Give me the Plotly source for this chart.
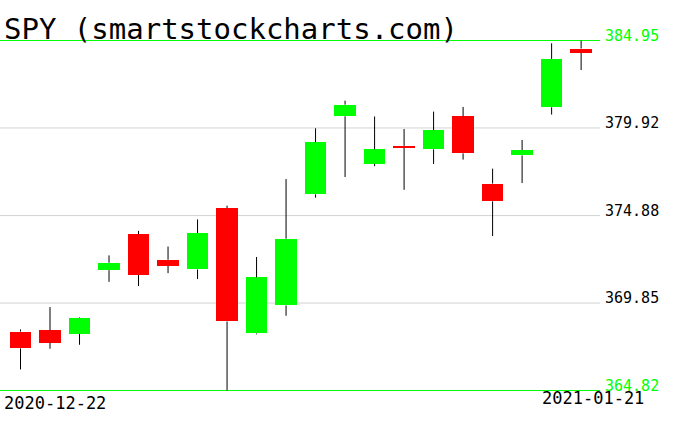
import plotly.graph_objects as go

dates = ["2020-12-22", "2020-12-23", "2020-12-24", "2020-12-28", "2020-12-29",
         "2020-12-30", "2020-12-31", "2021-01-04", "2021-01-05", "2021-01-06",
         "2021-01-07", "2021-01-08", "2021-01-11", "2021-01-12", "2021-01-13",
         "2021-01-14", "2021-01-15", "2021-01-19", "2021-01-20", "2021-01-21"]
opens = [368.21, 368.28, 368.08, 371.74, 373.81, 372.34, 371.78, 375.31, 368.10, 369.71,
         376.10, 380.59, 377.85, 378.89, 378.69, 380.59, 376.72, 378.34, 381.11, 384.49]
highs = [368.33, 369.62, 369.03, 372.59, 374.00, 373.10, 374.66, 375.45, 372.50, 376.98,
         379.90, 381.49, 380.58, 379.86, 380.86, 381.13, 377.58, 379.23, 384.79, 384.95]
lows = [366.03, 367.22, 367.45, 371.07, 370.83, 371.57, 371.23, 364.82, 368.05, 369.12,
        375.91, 377.10, 377.72, 376.36, 377.85, 378.10, 373.70, 376.75, 380.69, 383.25]
closes = [367.24, 367.57, 369.00, 372.17, 371.46, 371.99, 373.88, 368.79, 371.33, 373.55,
          379.10, 381.26, 378.69, 378.77, 379.79, 378.46, 375.70, 378.65, 383.89, 384.24]
tick_vals = [364.82, 369.85, 374.88, 379.92, 384.95]
tick_text = ["364.82", "369.85", "374.88", "379.92", "384.95"]
title_text = "SPY (smartstockcharts.com)"

GREEN = "#00ff00"
RED = "#ff0000"
GRID = "#d3d3d3"
MONO = "DejaVu Sans Mono"

fig = go.Figure()

# wicks (above and below body)
wx, wy = [], []
for d, o, h, l, c in zip(dates, opens, highs, lows, closes):
    top, bot = max(o, c), min(o, c)
    wx += [d, d, None, d, d, None]
    wy += [h, top, None, bot, l, None]
fig.add_trace(go.Scatter(x=wx, y=wy, mode="lines", line=dict(color="black", width=1),
                         hoverinfo="skip", showlegend=False, connectgaps=False))

# bodies
colors = [GREEN if c >= o else RED for o, c in zip(opens, closes)]
fig.add_trace(go.Bar(x=dates, y=[max(abs(c - o), 0.12) for o, c in zip(opens, closes)],
                     base=[min(o, c) for o, c in zip(opens, closes)],
                     marker=dict(color=colors, line=dict(width=0)), width=0.72,
                     showlegend=False))

# horizontal reference lines
for i, v in enumerate(tick_vals):
    edge = i == 0 or i == len(tick_vals) - 1
    fig.add_shape(type="line", xref="paper", x0=0, x1=1, yref="y", y0=v, y1=v,
                  line=dict(color=GREEN if edge else GRID, width=1), layer="below")
    fig.add_annotation(xref="paper", x=1, xanchor="left", xshift=3,
                       yref="y", y=v, yanchor="bottom", yshift=-6,
                       text=tick_text[i], showarrow=False,
                       font=dict(family=MONO, size=15, color=GREEN if edge else "black"))

fig.add_annotation(xref="paper", x=0, xanchor="left", xshift=2,
                   yref="y", y=tick_vals[-1], yanchor="bottom", yshift=-8,
                   text=title_text, showarrow=False,
                   font=dict(family=MONO, size=29, color="black"))
fig.add_annotation(xref="paper", x=0, xanchor="left", xshift=2,
                   yref="y", y=tick_vals[0], yanchor="top", yshift=0,
                   text=dates[0], showarrow=False,
                   font=dict(family=MONO, size=17, color="black"))
fig.add_annotation(xref="paper", x=1, xanchor="right", xshift=46,
                   yref="y", y=tick_vals[0], yanchor="top", yshift=5,
                   text=dates[-1], showarrow=False,
                   font=dict(family=MONO, size=17, color="black"))

pad_top = 0.1438
pad_bot = 0.0863
fig.update_layout(
    width=676, height=431,
    margin=dict(l=0, r=76, t=38, b=39),
    paper_bgcolor="white", plot_bgcolor="white",
    bargap=0, showlegend=False,
    xaxis=dict(type="category", range=[-0.695, 19.64], showticklabels=False,
               showgrid=False, zeroline=False, showline=False, ticks=""),
    yaxis=dict(range=[tick_vals[0] - pad_bot, tick_vals[-1] + pad_top], showticklabels=False,
               showgrid=False, zeroline=False, showline=False, ticks=""),
)

fig.write_html("out.html", config={"displayModeBar": False},
               post_script="document.body.style.margin='0';document.body.style.overflow='hidden';")
